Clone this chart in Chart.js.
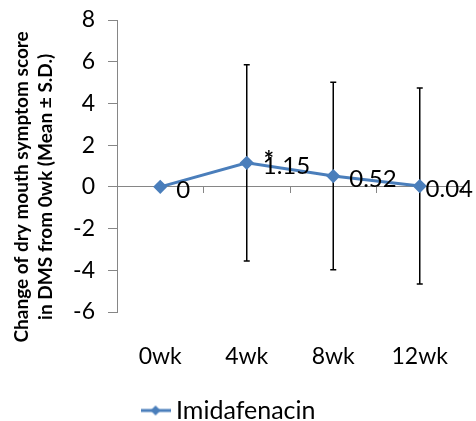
<!DOCTYPE html>
<html>
<head>
<meta charset="utf-8">
<script src="https://cdn.jsdelivr.net/npm/chart.js@4/dist/chart.umd.min.js"></script>
<style>
  html, body { margin: 0; padding: 0; background: #ffffff; }
  #wrap { width: 476px; height: 421px; }
</style>
</head>
<body>
<div id="wrap"><canvas id="c" width="476" height="421"></canvas></div>
<script>
// ---- data ----
const categories = ['0wk', '4wk', '8wk', '12wk'];
const seriesName = 'Imidafenacin';
const means = [0, 1.15, 0.52, 0.04];
const sds = [0, 4.7, 4.5, 4.7];
const valueLabels = ['0', '1.15', '0.52', '0.04'];
const significance = ['', '*', '', ''];
const yMin = -6, yMax = 8, yStep = 2;
const yTitleLines = ['Change of dry mouth symptom score', 'in DMS from 0wk (Mean \u00B1 S.D.)'];

// ---- styles ----
const FONT = 'Lato, "Open Sans", sans-serif';
const BLUE = '#4A7EBB';
const AXIS = '#868686';

// legend symbol: line with a diamond
function legendSymbol() {
  const c = document.createElement('canvas');
  c.width = 30; c.height = 12;
  const g = c.getContext('2d');
  g.strokeStyle = BLUE; g.lineWidth = 3;
  g.beginPath(); g.moveTo(0, 6); g.lineTo(30, 6); g.stroke();
  g.fillStyle = BLUE;
  g.beginPath(); g.moveTo(15, 1); g.lineTo(20, 6); g.lineTo(15, 11); g.lineTo(10, 6); g.closePath(); g.fill();
  return c;
}
const legendImg = legendSymbol();

const errorBars = {
  id: 'errorBars',
  beforeDatasetsDraw(chart) {
    const meta = chart.getDatasetMeta(0);
    const y = chart.scales.y;
    const ctx = chart.ctx;
    ctx.save();
    ctx.strokeStyle = '#000000';
    ctx.lineWidth = 1.5;
    meta.data.forEach((pt, i) => {
      if (!sds[i]) return;
      const top = y.getPixelForValue(means[i] + sds[i]);
      const bot = y.getPixelForValue(means[i] - sds[i]);
      const x = pt.x;
      ctx.beginPath();
      ctx.moveTo(x, top); ctx.lineTo(x, bot);
      ctx.moveTo(x - 3, top); ctx.lineTo(x + 3, top);
      ctx.moveTo(x - 3, bot); ctx.lineTo(x + 3, bot);
      ctx.stroke();
    });
    ctx.restore();
  }
};

const valueText = {
  id: 'valueText',
  afterDatasetsDraw(chart) {
    const meta = chart.getDatasetMeta(0);
    const ctx = chart.ctx;
    ctx.save();
    ctx.font = '24px ' + FONT;
    ctx.fillStyle = '#000000';
    ctx.textAlign = 'left';
    meta.data.forEach((pt, i) => {
      const w = ctx.measureText(valueLabels[i]).width;
      let x = pt.x + 16;
      if (x + w > chart.width - 3) x = chart.width - 3 - w;
      ctx.textBaseline = 'middle';
      ctx.fillText(valueLabels[i], x, pt.y + 3);
      if (significance[i]) {
        ctx.textBaseline = 'alphabetic';
        ctx.font = 'bold 24px ' + FONT;
        ctx.fillText(significance[i], x + 1, pt.y + 6);
        ctx.font = '24px ' + FONT;
      }
    });
    ctx.restore();
  }
};

// y-axis title, two bold rotated lines, centred on the zero line like the original
const yTitle = {
  id: 'yTitle',
  afterDraw(chart) {
    const ctx = chart.ctx;
    const y = chart.scales.y;
    const cy = y.getPixelForValue(0);
    ctx.save();
    ctx.fillStyle = '#000000';
    ctx.font = 'bold 19px ' + FONT;
    ctx.textAlign = 'center';
    ctx.textBaseline = 'middle';
    yTitleLines.forEach((line, i) => {
      ctx.save();
      ctx.translate(22 + i * 24, cy);
      ctx.rotate(-Math.PI / 2);
      ctx.fillText(line, 0, 0);
      ctx.restore();
    });
    ctx.restore();
  }
};

new Chart(document.getElementById('c'), {
  type: 'line',
  data: {
    labels: categories,
    datasets: [{
      label: seriesName,
      data: means,
      borderColor: BLUE,
      backgroundColor: BLUE,
      borderWidth: 3,
      pointStyle: 'rectRot',
      pointRadius: 5,
      pointHoverRadius: 5,
      tension: 0,
      xAxisID: 'x'
    }]
  },
  options: {
    responsive: false,
    animation: false,
    events: [],
    layout: { padding: { top: 20, right: 13, bottom: -12, left: 0 } },
    plugins: {
      tooltip: { enabled: false },
      legend: {
        position: 'bottom',
        labels: {
          usePointStyle: true,
          pointStyleWidth: 16,
          padding: 0,
          color: '#000000',
          font: { family: FONT, size: 25, lineHeight: 1.0 },
          generateLabels(chart) {
            const items = Chart.defaults.plugins.legend.labels.generateLabels(chart);
            items.forEach(it => { it.pointStyle = legendImg; });
            return items;
          }
        }
      }
    },
    scales: {
      x: {
        type: 'category',
        offset: true,
        position: 'bottom',
        border: { display: false },
        grid: { display: false },
        ticks: { color: '#000000', font: { family: FONT, size: 23 }, padding: 23 },
        afterFit(s) { s.height = 86; s.paddingLeft = 0; s.paddingRight = 0; }
      },
      x2: {
        type: 'category',
        axis: 'x',
        labels: categories,
        offset: true,
        position: { y: 0 },
        border: { display: true, color: AXIS, width: 1 },
        grid: { offset: true, drawOnChartArea: false, drawTicks: true, tickLength: 6, color: AXIS },
        ticks: { display: false }
      },
      y: {
        min: yMin,
        max: yMax,
        ticks: { stepSize: yStep, color: '#000000', font: { family: FONT, size: 23 }, padding: 13 },
        border: { display: true, color: AXIS, width: 1 },
        grid: { drawOnChartArea: false, drawTicks: true, tickLength: 9, color: AXIS },
        title: { display: false },
        afterFit(s) { s.width = 117; s.paddingTop = 0; s.paddingBottom = 0; }
      }
    }
  },
  plugins: [errorBars, valueText, yTitle]
});
</script>
</body>
</html>
